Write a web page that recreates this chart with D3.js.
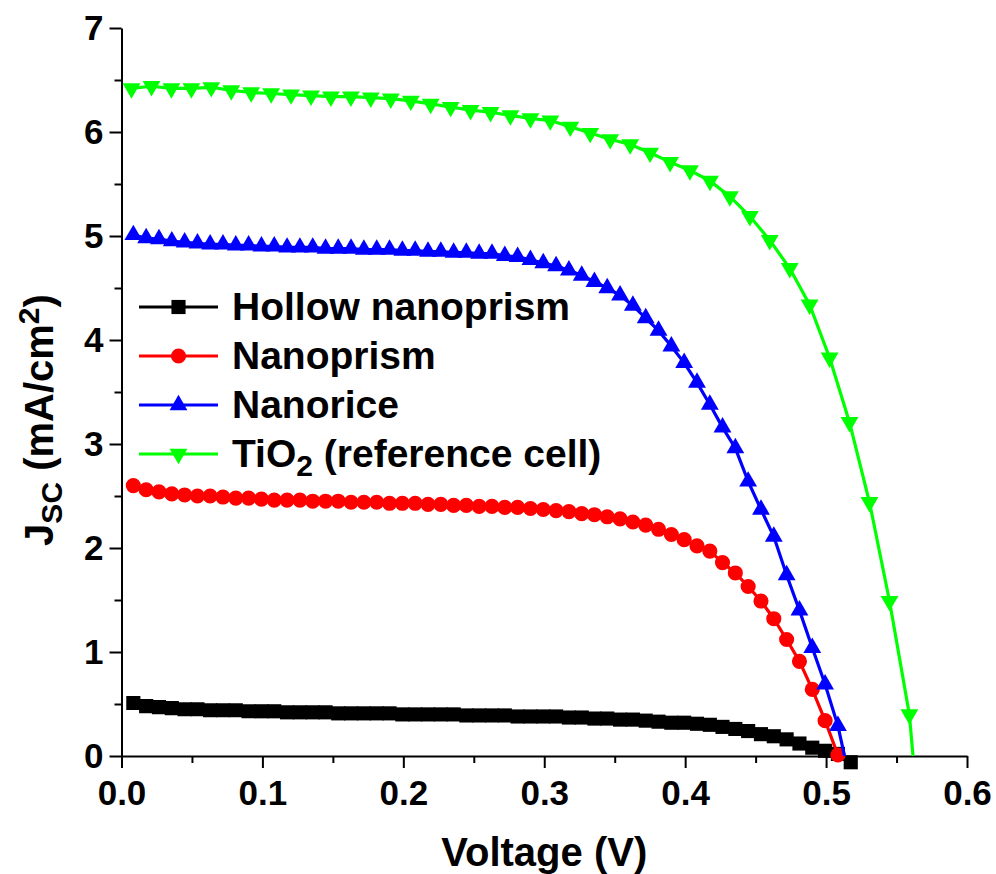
<!DOCTYPE html>
<html>
<head>
<meta charset="utf-8">
<script src="https://cdn.jsdelivr.net/npm/d3@7"></script>
<style>
  body { margin: 0; background: #fff; }
  text { font-family: "Liberation Sans", Arial, sans-serif; font-weight: bold; fill: #000; }
</style>
</head>
<body>
<svg id="chart"></svg>
<script>
// voltage grid shared by the hollow nanoprism, nanoprism and nanorice cells (V)
var voltFine = [
  0.0084, 0.0175, 0.0266, 0.0357, 0.0448, 0.0539, 0.0629, 0.0720, 0.0811, 0.0902,
  0.0993, 0.1084, 0.1175, 0.1266, 0.1357, 0.1448, 0.1538, 0.1629, 0.1720, 0.1811,
  0.1902, 0.1993, 0.2084, 0.2175, 0.2266, 0.2357, 0.2447, 0.2538, 0.2629, 0.2720,
  0.2811, 0.2902, 0.2993, 0.3084, 0.3175, 0.3266, 0.3356, 0.3447, 0.3538, 0.3629,
  0.3720, 0.3811, 0.3902, 0.3993, 0.4084, 0.4175, 0.4265, 0.4356, 0.4447, 0.4538,
  0.4629, 0.4720, 0.4811, 0.4902, 0.4993, 0.5084, 0.5175
]
// voltage grid of the TiO2 reference cell (V)
var voltTiO2 = [
  0.0071, 0.0213, 0.0354, 0.0496, 0.0637, 0.0779, 0.0920, 0.1062, 0.1203, 0.1345,
  0.1486, 0.1628, 0.1769, 0.1911, 0.2053, 0.2194, 0.2336, 0.2477, 0.2619, 0.2760,
  0.2902, 0.3043, 0.3185, 0.3326, 0.3468, 0.3610, 0.3751, 0.3893, 0.4034, 0.4176,
  0.4317, 0.4459, 0.4600, 0.4742, 0.4883, 0.5025, 0.5166, 0.5308, 0.5450, 0.5591,
  0.5733
]

// current density (mA/cm2)
var jHollow = [
  0.51, 0.48, 0.47, 0.46, 0.45, 0.45, 0.44, 0.44, 0.44, 0.43,
  0.43, 0.43, 0.42, 0.42, 0.42, 0.42, 0.41, 0.41, 0.41, 0.41,
  0.41, 0.40, 0.40, 0.40, 0.40, 0.40, 0.39, 0.39, 0.39, 0.39,
  0.38, 0.38, 0.38, 0.38, 0.37, 0.37, 0.36, 0.36, 0.35, 0.35,
  0.34, 0.33, 0.32, 0.32, 0.31, 0.30, 0.28, 0.26, 0.24, 0.21,
  0.19, 0.16, 0.12, 0.08, 0.05, 0.02, -0.06
]
var jPrism = [
  2.60, 2.56, 2.54, 2.52, 2.51, 2.50, 2.50, 2.49, 2.48, 2.48,
  2.47, 2.46, 2.46, 2.46, 2.45, 2.45, 2.45, 2.44, 2.44, 2.44,
  2.43, 2.43, 2.43, 2.42, 2.42, 2.41, 2.41, 2.40, 2.40, 2.39,
  2.39, 2.38, 2.37, 2.36, 2.35, 2.33, 2.32, 2.30, 2.28, 2.25,
  2.22, 2.18, 2.13, 2.08, 2.02, 1.97, 1.86, 1.76, 1.63, 1.49,
  1.32, 1.12, 0.91, 0.64, 0.34, 0.01
]
var jRice = [
  5.01, 4.98, 4.97, 4.95, 4.94, 4.93, 4.92, 4.92, 4.91, 4.91,
  4.90, 4.90, 4.89, 4.89, 4.89, 4.88, 4.88, 4.88, 4.87, 4.87,
  4.87, 4.86, 4.86, 4.85, 4.85, 4.84, 4.84, 4.83, 4.83, 4.81,
  4.80, 4.77, 4.74, 4.71, 4.67, 4.62, 4.56, 4.50, 4.43, 4.33,
  4.21, 4.09, 3.94, 3.78, 3.59, 3.38, 3.16, 2.96, 2.64, 2.37,
  2.11, 1.74, 1.40, 1.04, 0.69, 0.29, -0.27
]
var jTiO2 = [
  6.42, 6.44, 6.42, 6.42, 6.43, 6.40, 6.38, 6.37, 6.36, 6.35,
  6.34, 6.34, 6.33, 6.32, 6.30, 6.27, 6.24, 6.21, 6.19, 6.16,
  6.13, 6.11, 6.05, 5.99, 5.93, 5.88, 5.80, 5.71, 5.63, 5.53,
  5.38, 5.19, 4.96, 4.69, 4.34, 3.83, 3.21, 2.44, 1.49, 0.40,
  -1.80
]

var xTicks = [0, 0.1, 0.2, 0.3, 0.4, 0.5, 0.6]
var xMinorTicks = [0.05, 0.15, 0.25, 0.35, 0.45, 0.55]
var yTicks = [0, 1, 2, 3, 4, 5, 6, 7]
var yMinorTicks = [0.5, 1.5, 2.5, 3.5, 4.5, 5.5, 6.5]

var width = 996
var height = 874
var plot = { left: 121.5, right: 967, top: 28, bottom: 756 }

var x = d3.scaleLinear().domain([0, 0.6]).range([plot.left, plot.right])
var y = d3.scaleLinear().domain([0, 7]).range([plot.bottom, plot.top])

var series = [
  { name: 'Hollow nanoprism', color: '#000000', symbol: d3.symbolSquare, size: 200, rotate: 0,
    points: jHollow.map((j, i) => ({ v: voltFine[i], j: j })) },
  { name: 'Nanoprism', color: '#ff0000', symbol: d3.symbolCircle, size: 180, rotate: 0,
    points: jPrism.map((j, i) => ({ v: voltFine[i], j: j })) },
  { name: 'Nanorice', color: '#0000ff', symbol: d3.symbolTriangle, size: 138, rotate: 0,
    points: jRice.map((j, i) => ({ v: voltFine[i], j: j })) },
  { name: 'TiO2', color: '#00ff00', symbol: d3.symbolTriangle, size: 138, rotate: 180,
    points: jTiO2.map((j, i) => ({ v: voltTiO2[i], j: j })) }
]

var svg = d3.select('#chart').attr('width', width).attr('height', height)

var defs = svg.append('defs')
defs.append('clipPath').attr('id', 'lineClip')
  .append('rect')
  .attr('x', plot.left).attr('y', 0)
  .attr('width', plot.right - plot.left).attr('height', plot.bottom)
defs.append('clipPath').attr('id', 'markerClip')
  .append('rect')
  .attr('x', plot.left).attr('y', 0)
  .attr('width', plot.right - plot.left).attr('height', plot.bottom + 14)

// axes
var axisStyle = g => {
  g.select('.domain').attr('stroke-width', 2)
  g.selectAll('.tick line').attr('stroke-width', 2)
  g.selectAll('text').attr('font-size', 35).attr('font-family', null).attr('fill', '#000')
}

svg.append('g')
  .attr('transform', `translate(0,${plot.bottom})`)
  .call(d3.axisBottom(x).tickValues(xMinorTicks).tickSize(7).tickSizeOuter(0).tickFormat(''))
  .call(g => g.select('.domain').remove())
  .call(g => g.selectAll('.tick line').attr('stroke-width', 2))

svg.append('g')
  .attr('transform', `translate(0,${plot.bottom})`)
  .call(d3.axisBottom(x).tickValues(xTicks).tickSize(12).tickSizeOuter(0).tickPadding(12)
    .tickFormat(d3.format('.1f')))
  .call(axisStyle)

svg.append('g')
  .attr('transform', `translate(${plot.left},0)`)
  .call(d3.axisLeft(y).tickValues(yMinorTicks).tickSize(7).tickSizeOuter(0).tickFormat(''))
  .call(g => g.select('.domain').remove())
  .call(g => g.selectAll('.tick line').attr('stroke-width', 2))

svg.append('g')
  .attr('transform', `translate(${plot.left},0)`)
  .call(d3.axisLeft(y).tickValues(yTicks).tickSize(12).tickSizeOuter(0).tickPadding(6)
    .tickFormat(d3.format('d')))
  .call(axisStyle)

// curves
var line = d3.line().x(d => x(d.v)).y(d => y(d.j))

series.forEach(s => {
  svg.append('path')
    .datum(s.points)
    .attr('clip-path', 'url(#lineClip)')
    .attr('fill', 'none')
    .attr('stroke', s.color)
    .attr('stroke-width', 3.2)
    .attr('d', line)

  svg.append('g')
    .attr('clip-path', 'url(#markerClip)')
    .selectAll('path')
    .data(s.points)
    .enter()
    .append('path')
    .attr('transform', d => `translate(${x(d.v)},${y(d.j)}) rotate(${s.rotate})`)
    .attr('d', d3.symbol().type(s.symbol).size(s.size))
    .attr('fill', s.color)
})

// legend
var legend = svg.append('g').attr('transform', 'translate(139,307)')
series.forEach((s, i) => {
  var row = legend.append('g').attr('transform', `translate(0,${i * 49})`)
  row.append('line')
    .attr('x1', 0).attr('x2', 79)
    .attr('stroke', s.color).attr('stroke-width', 3.2)
  row.append('path')
    .attr('transform', `translate(39.5,0) rotate(${s.rotate})`)
    .attr('d', d3.symbol().type(s.symbol).size(s.size))
    .attr('fill', s.color)
  var t = row.append('text').attr('x', 93).attr('y', 13).attr('font-size', 39)
  if (s.name === 'TiO2') {
    t.append('tspan').text('TiO')
    t.append('tspan').attr('font-size', 30).attr('dy', 9).text('2')
    t.append('tspan').attr('dy', -9).text(' (reference cell)')
  } else {
    t.text(s.name)
  }
})

// axis titles
svg.append('text')
  .attr('x', (plot.left + plot.right) / 2)
  .attr('y', 866)
  .attr('text-anchor', 'middle')
  .attr('font-size', 40)
  .text('Voltage (V)')

var yTitle = svg.append('text')
  .attr('transform', 'translate(53,420) rotate(-90)')
  .attr('text-anchor', 'middle')
  .attr('font-size', 40)
yTitle.append('tspan').text('J')
yTitle.append('tspan').attr('font-size', 30).attr('dy', 9).text('SC')
yTitle.append('tspan').attr('dy', -9).text(' (mA/cm')
yTitle.append('tspan').attr('font-size', 30).attr('dy', -14).text('2')
yTitle.append('tspan').attr('dy', 14).text(')')
</script>
</body>
</html>
